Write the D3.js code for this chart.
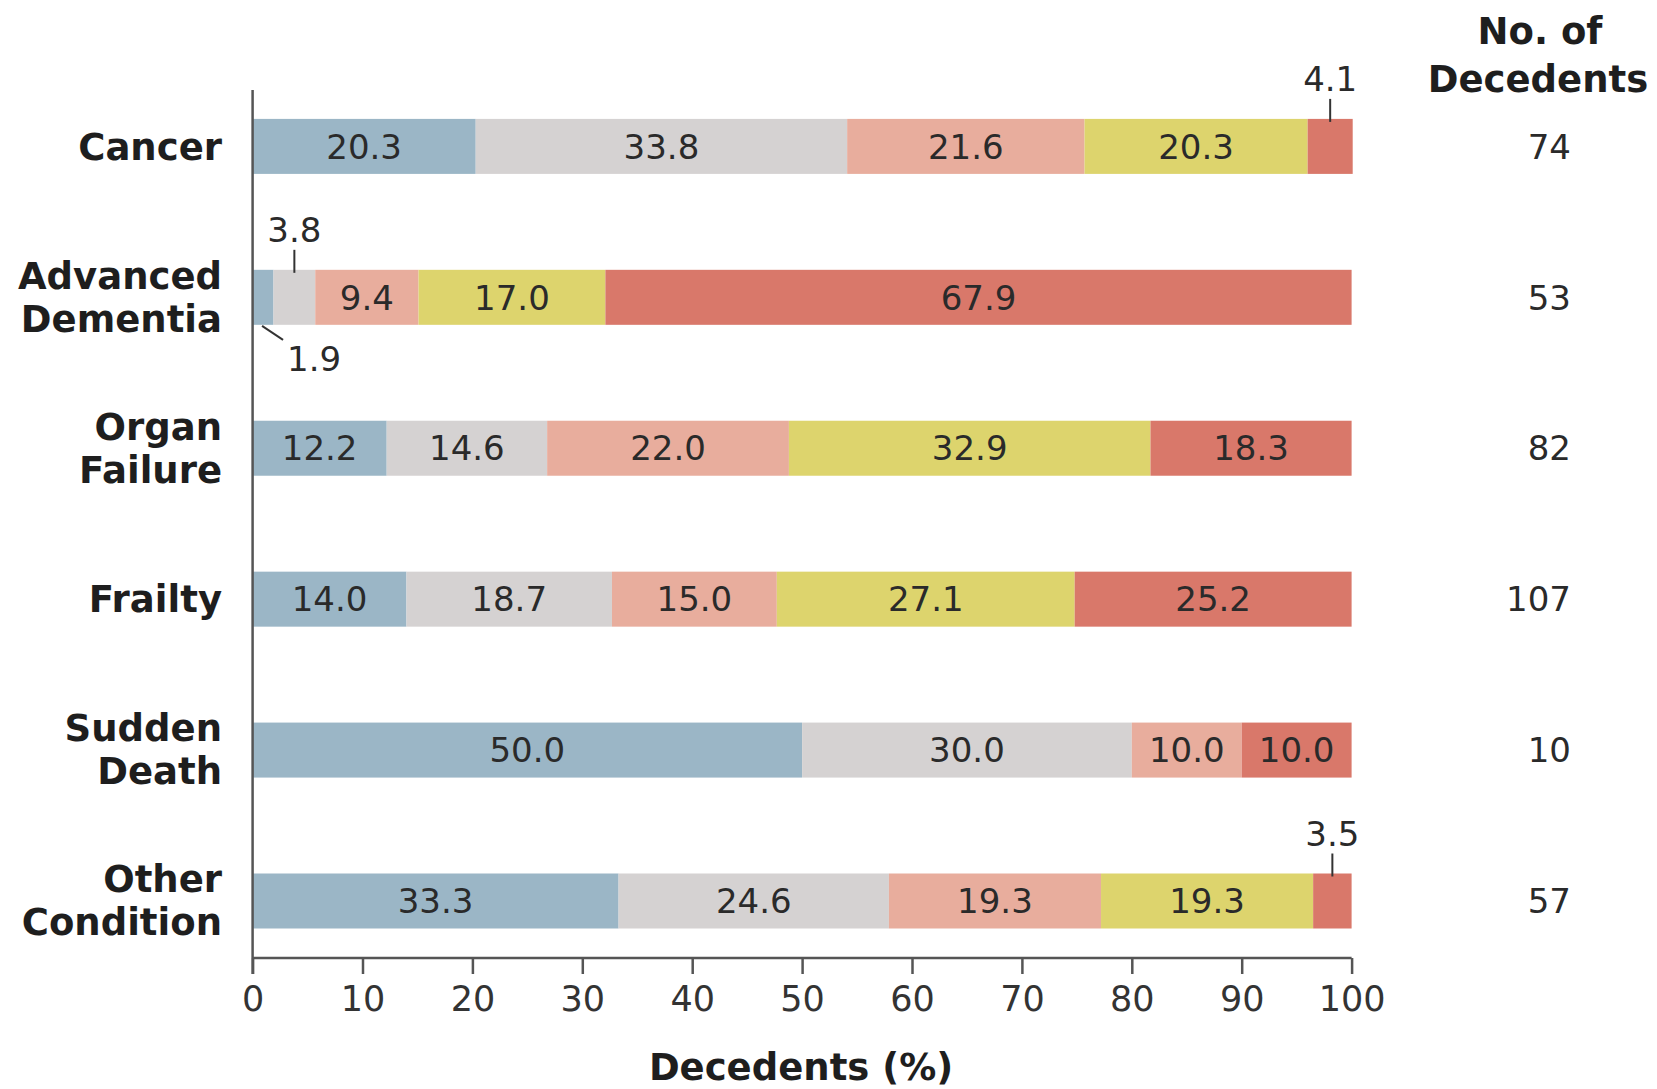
<!DOCTYPE html>
<html>
<head>
<meta charset="utf-8">
<script src="https://cdn.jsdelivr.net/npm/d3@7"></script>
<style>
  html, body { margin: 0; padding: 0; background: #ffffff; }
  svg { display: block; font-family: "DejaVu Sans", sans-serif; }
</style>
</head>
<body>
<svg id="chart" width="1657" height="1089"></svg>
<script>
// ---- data ----
const categories = ["Cancer", "Advanced Dementia", "Organ Failure", "Frailty", "Sudden Death", "Other Condition"];
const categoryLines = [["Cancer"], ["Advanced", "Dementia"], ["Organ", "Failure"], ["Frailty"], ["Sudden", "Death"], ["Other", "Condition"]];
const seriesKeys = ["s1", "s2", "s3", "s4", "s5"];
const s1 = [20.3, 1.9, 12.2, 14.0, 50.0, 33.3];
const s2 = [33.8, 3.8, 14.6, 18.7, 30.0, 24.6];
const s3 = [21.6, 9.4, 22.0, 15.0, 10.0, 19.3];
const s4 = [20.3, 17.0, 32.9, 27.1, 0, 19.3];
const s5 = [4.1, 67.9, 18.3, 25.2, 10.0, 3.5];
const decedents = [74, 53, 82, 107, 10, 57];
const xTicks = [0, 10, 20, 30, 40, 50, 60, 70, 80, 90, 100];
const seriesColors = ["#9bb6c6", "#d5d2d2", "#e8ad9d", "#ddd46d", "#d9786a"];

// ---- layout ----
const svg = d3.select("#chart");
const x = d3.scaleLinear().domain([0, 100]).range([252.6, 1351.6]);
const yc = d3.scalePoint().domain(categories).range([146.4, 901]);
const barH = 55;
const axisY = 958;
const textCol = "#1e1e1e";

const seriesVals = [s1, s2, s3, s4, s5];
const rows = categories.map((c, i) => {
  const r = { cat: c };
  seriesKeys.forEach((k, j) => r[k] = seriesVals[j][i]);
  return r;
});
const stack = d3.stack().keys(seriesKeys)(rows);

// bars
const g = svg.append("g");
stack.forEach((layer, j) => {
  g.selectAll(null).data(layer.filter(d => d[1] - d[0] > 0)).enter()
    .append("rect")
    .attr("x", d => x(d[0]))
    .attr("width", d => x(d[1]) - x(d[0]))
    .attr("y", d => yc(d.data.cat) - barH / 2)
    .attr("height", barH)
    .attr("fill", seriesColors[j]);
});

// value labels inside bars (values >= 5)
stack.forEach((layer, j) => {
  g.selectAll(null).data(layer.filter(d => d[1] - d[0] >= 5)).enter()
    .append("text")
    .attr("x", d => x((d[0] + d[1]) / 2))
    .attr("y", d => yc(d.data.cat))
    .attr("dy", "0.36em")
    .attr("text-anchor", "middle")
    .attr("font-size", 34)
    .attr("fill", "#2a2a2a")
    .text(d => (d[1] - d[0]).toFixed(1));
});

// outside annotations for small segments
const smalls = [];
stack.forEach((layer, j) => {
  layer.forEach(d => {
    const v = d[1] - d[0];
    if (v > 0 && v < 5) smalls.push({ cat: d.data.cat, v, mid: (d[0] + d[1]) / 2, j });
  });
});
smalls.forEach(s => {
  const cx = x(s.mid);
  const top = yc(s.cat) - barH / 2;
  const bot = yc(s.cat) + barH / 2;
  if (s.cat === "Advanced Dementia" && s.j === 0) {
    // leader below-right
    g.append("line").attr("x1", cx - 1).attr("y1", bot + 1).attr("x2", cx + 20).attr("y2", bot + 15)
      .attr("stroke", "#333").attr("stroke-width", 2);
    g.append("text").attr("x", cx + 51).attr("y", bot + 46)
      .attr("text-anchor", "middle").attr("font-size", 34).attr("fill", "#2a2a2a")
      .text(s.v.toFixed(1));
  } else {
    g.append("line").attr("x1", cx).attr("x2", cx).attr("y1", top - 20).attr("y2", top + 3)
      .attr("stroke", "#333").attr("stroke-width", 2);
    g.append("text").attr("x", cx).attr("y", top - 28)
      .attr("text-anchor", "middle").attr("font-size", 34).attr("fill", "#2a2a2a")
      .text(s.v.toFixed(1));
  }
});

// axes
const xAxis = d3.axisBottom(x).tickValues(xTicks).tickSize(16).tickPadding(12).tickFormat(d3.format("d"));
const ax = svg.append("g").attr("transform", `translate(0,${axisY})`).call(xAxis);
ax.select(".domain").attr("stroke", "#555").attr("stroke-width", 2.5).attr("d", `M${x(0)},0H${x(100)}`);
ax.selectAll(".tick line").attr("stroke", "#555").attr("stroke-width", 2.5);
ax.selectAll(".tick text").attr("font-size", 35).attr("fill", "#333").attr("font-family", "DejaVu Sans");

// y axis line
svg.append("line").attr("x1", x(0)).attr("x2", x(0)).attr("y1", 90).attr("y2", axisY + 16)
  .attr("stroke", "#555").attr("stroke-width", 2.5);

// axis title
svg.append("text").attr("x", 801).attr("y", 1080).attr("text-anchor", "middle")
  .attr("font-size", 37).attr("font-weight", "bold").attr("fill", textCol).text("Decedents (%)");

// category labels
categories.forEach((c, i) => {
  const lines = categoryLines[i];
  const cy = yc(c);
  const t = svg.append("text").attr("text-anchor", "end").attr("font-size", 37)
    .attr("font-weight", "bold").attr("fill", textCol);
  lines.forEach((ln, k) => {
    const off = lines.length === 1 ? 0 : (k === 0 ? -22 : 21);
    t.append("tspan").attr("x", 222).attr("y", cy + off).attr("dy", "0.36em").text(ln);
  });
});

// right column
svg.append("text").attr("x", 1540).attr("y", 44).attr("text-anchor", "middle")
  .attr("font-size", 37).attr("font-weight", "bold").attr("fill", textCol).text("No. of");
svg.append("text").attr("x", 1538).attr("y", 92).attr("text-anchor", "middle")
  .attr("font-size", 37).attr("font-weight", "bold").attr("fill", textCol).text("Decedents");
categories.forEach((c, i) => {
  svg.append("text").attr("x", 1571).attr("y", yc(c)).attr("dy", "0.36em")
    .attr("text-anchor", "end").attr("font-size", 34).attr("fill", "#2a2a2a").text(decedents[i]);
});
</script>
</body>
</html>
